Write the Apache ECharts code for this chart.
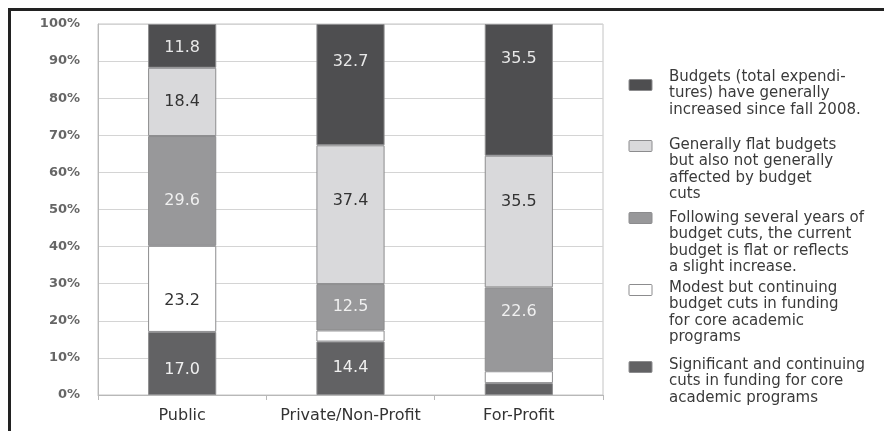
<!DOCTYPE html>
<html>
<head>
<meta charset="utf-8">
<script src="https://cdn.jsdelivr.net/npm/echarts@6/dist/echarts.min.js"></script>
<style>
html,body{margin:0;padding:0;background:#fff;}
#chart{width:884px;height:431px;}
</style>
</head>
<body>
<div id="chart"></div>
<script>
// ---- data ----
var categories = ['Public', 'Private/Non-Profit', 'For-Profit'];
var yTickLabels = ['0%', '10%', '20%', '30%', '40%', '50%', '60%', '70%', '80%', '90%', '100%'];

// stacked bottom -> top
var significantCuts = [17.0, 14.4, 3.2];
var modestCuts      = [23.2, 3.0, 3.2];
var followingCuts   = [29.6, 12.5, 22.6];
var flatBudgets     = [18.4, 37.4, 35.5];
var increased       = [11.8, 32.7, 35.5];

var seriesNames = [
  'Significant and continuing cuts in funding for core academic programs',
  'Modest but continuing budget cuts in funding for core academic programs',
  'Following several years of budget cuts, the current budget is flat or reflects a slight increase.',
  'Generally flat budgets but also not generally affected by budget cuts',
  'Budgets (total expenditures) have generally increased since fall 2008.'
];
// legend text as wrapped in the reference (top -> bottom)
var legendLines = [
  ['Budgets (total expendi-', 'tures) have generally', 'increased since fall 2008.'],
  ['Generally flat budgets', 'but also not generally', 'affected by budget', 'cuts'],
  ['Following several years of', 'budget cuts, the current', 'budget is flat or reflects', 'a slight increase.'],
  ['Modest but continuing', 'budget cuts in funding', 'for core academic', 'programs'],
  ['Significant and continuing', 'cuts in funding for core', 'academic programs']
];

// ---- style ----
var seriesData = [significantCuts, modestCuts, followingCuts, flatBudgets, increased];
var colors = ['#626264', '#ffffff', '#98989a', '#d9d9db', '#4e4e50'];
var labelColors = ['#f0f0f0', '#333333', '#f0f0f0', '#333333', '#e8e8e8'];
// manual label nudges (px), as placed in the reference
var labelNudge = [
  [6, 0, 0],
  [12, 0, 0],
  [10, 0, -17],
  [0, -14, -20],
  [2, -23, -31]
];

var series = seriesData.map(function (arr, si) {
  return {
    name: seriesNames[si],
    type: 'bar',
    stack: 'total',
    barWidth: '40.5%',
    itemStyle: { color: colors[si], borderColor: '#8c8c8e', borderWidth: 1 },
    emphasis: { disabled: true },
    data: arr.map(function (v, ci) {
      return {
        value: v,
        label: {
          show: v >= 10,
          position: 'inside',
          offset: [0, labelNudge[si][ci]],
          color: labelColors[si],
          fontFamily: 'DejaVu Sans',
          fontSize: 16,
          formatter: function (p) { return p.value.toFixed(1); }
        }
      };
    })
  };
});

// legend drawn as graphics (reference has hand-wrapped, unevenly spaced entries)
var legendIconY = [85, 146, 218, 290, 367];
var legendTextY = [77, 145, 218, 288, 365];
var legendColorIdx = [4, 3, 2, 1, 0];
var graphic = [
  { type: 'rect', shape: { x: 8, y: 8, width: 876, height: 3 }, style: { fill: '#222' }, silent: true },
  { type: 'rect', shape: { x: 8, y: 8, width: 3, height: 423 }, style: { fill: '#222' }, silent: true }
];
legendLines.forEach(function (lines, i) {
  graphic.push({
    type: 'rect',
    shape: { x: 629, y: legendIconY[i] - 5.5, width: 23, height: 11, r: 1 },
    style: { fill: colors[legendColorIdx[i]], stroke: '#8c8c8e', lineWidth: 1 },
    silent: true
  });
  graphic.push({
    type: 'text',
    x: 669,
    y: legendTextY[i] - 8.5,
    style: {
      text: lines.join('\n'),
      font: '15px "DejaVu Sans"',
      fill: '#3a3a3a',
      lineHeight: 16.5,
      verticalAlign: 'top'
    },
    silent: true
  });
});

var chart = echarts.init(document.getElementById('chart'), null, { renderer: 'canvas' });
chart.setOption({
  animation: false,
  backgroundColor: '#ffffff',
  grid: { left: 98, right: 281, top: 24, bottom: 36, show: true, borderColor: '#c4c4c4', borderWidth: 1 },
  xAxis: {
    type: 'category',
    data: categories,
    axisLine: { lineStyle: { color: '#b8b8b8', width: 1 } },
    axisTick: { show: true, length: 5, lineStyle: { color: '#b8b8b8' } },
    axisLabel: { color: '#333', fontFamily: 'DejaVu Sans', fontSize: 16, margin: 13, interval: 0 }
  },
  yAxis: {
    type: 'value',
    min: 0, max: 100, interval: 10,
    axisLine: { show: true, lineStyle: { color: '#b8b8b8' } },
    axisTick: { show: false },
    splitLine: { lineStyle: { color: '#d4d4d4' } },
    axisLabel: {
      color: '#666',
      fontFamily: 'DejaVu Sans',
      fontWeight: 'bold',
      fontSize: 13,
      margin: 18,
      formatter: function (v) { return yTickLabels[Math.round(v / 10)]; }
    }
  },
  series: series,
  graphic: graphic
});
</script>
</body>
</html>
